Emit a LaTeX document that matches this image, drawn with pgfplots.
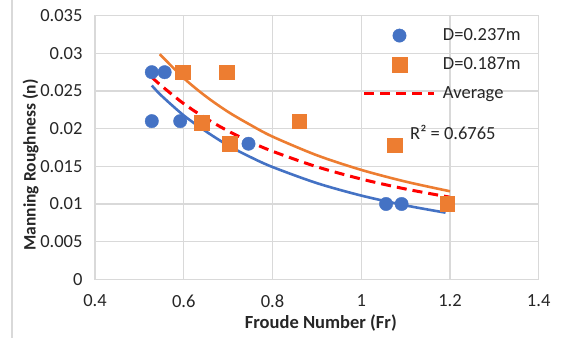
\documentclass[border=0pt]{standalone}
\usepackage{fontspec}
\setmainfont{Carlito}
\usepackage{pgfplots}
\pgfplotsset{compat=1.18}
\definecolor{cblue}{HTML}{4472C4}
\definecolor{corange}{HTML}{ED7D31}
\definecolor{cgrid}{HTML}{D9D9D9}
\definecolor{ctext}{HTML}{262626}
\pgfplotsset{
  legmark/.style={legend image code/.code={\draw[##1] plot coordinates {(35bp,0bp)};}},
  legline/.style={legend image code/.code={\draw[##1] (0bp,0bp) -- (70bp,0bp);}},
}
\begin{document}
\begin{tikzpicture}[font=\fontsize{18.5bp}{22bp}\selectfont]
\path[use as bounding box] (-95bp,-58.7bp) rectangle (466bp,279.3bp);
\draw[cgrid, line width=1.2bp] (-83bp,-58.7bp) -- (-83bp,279.3bp);
\begin{axis}[
  at={(0,0)}, anchor=south west,
  scale only axis, width=443.7bp, height=263.6bp,
  xmin=0.4, xmax=1.4, ymin=0, ymax=0.035,
  xtick={0.4,0.6,0.8,1,1.2,1.4},
  ytick={0,0.005,0.01,0.015,0.02,0.025,0.03,0.035},
  scaled y ticks=false, scaled x ticks=false,
  /pgf/number format/assume math mode=true,
  yticklabel style={/pgf/number format/fixed,/pgf/number format/precision=3, xshift=-9bp, text=ctext},
  xticklabel style={/pgf/number format/fixed,/pgf/number format/precision=1, yshift=-12bp, text=ctext},
  major tick length=0pt,
  grid=major,
  grid style={cgrid, line width=1.2bp},
  axis line style={cgrid, line width=1.2bp},
  xlabel={\bfseries Froude Number (Fr)},
  ylabel={\bfseries Manning Roughness (n)},
  xlabel style={at={(axis description cs:0.509,-0.166)}, anchor=center, font=\fontsize{18.5bp}{22bp}\selectfont, text=ctext},
  ylabel style={at={(axis description cs:-0.145,0.4336)}, anchor=center, font=\fontsize{17.5bp}{21bp}\selectfont, text=ctext},
  legend style={draw=none, fill=none, at={(axis description cs:0.604,0.953)}, anchor=north west,
    inner sep=0pt, outer sep=0pt, row sep=14bp, column sep=7bp,
    nodes={inner sep=0pt, text height=12bp, text depth=3bp, text=ctext}},
  legend cell align=left,
  clip=false,
]
\addplot[only marks, mark=*, mark size=6.7bp, color=cblue, legmark]
  coordinates {(0.528,0.0275)(0.557,0.0275)(0.528,0.021)(0.592,0.021)(0.746,0.018)(1.056,0.01)(1.091,0.01)};
\addlegendentry{D=0.237m}
\addplot[only marks, mark=square*, mark size=7.3bp, color=corange, legmark]
  coordinates {(0.598,0.0275)(0.697,0.0275)(0.640,0.0208)(0.703,0.018)(0.860,0.021)(1.076,0.0178)(1.194,0.01)};
\addlegendentry{D=0.187m}
\addplot[red, line width=3bp, dash pattern=on 10bp off 6bp, smooth, no marks, legline]
  coordinates {(0.528,0.02683)(0.55,0.02568)(0.6,0.02332)(0.65,0.02137)(0.7,0.01969)(0.75,0.01825)(0.8,0.01700)(0.9,0.01494)(1.0,0.013313)(1.1,0.01199)(1.2,0.0109)};
\addlegendentry{Average}
\addplot[cblue, line width=2.6bp, smooth, no marks, forget plot]
  coordinates {(0.528,0.02573)(0.55,0.02437)(0.6,0.02176)(0.65,0.01964)(0.7,0.01777)(0.75,0.01624)(0.8,0.01491)(0.9,0.01277)(1.0,0.01112)(1.1,0.00981)(1.19,0.00885)};
\addplot[corange, line width=2.6bp, smooth, no marks, forget plot]
  coordinates {(0.546,0.02989)(0.6,0.02671)(0.65,0.02428)(0.7,0.02223)(0.75,0.02051)(0.8,0.01895)(0.9,0.01647)(1.0,0.014528)(1.1,0.01297)(1.2,0.01169)};
\node[anchor=west, inner sep=0pt, text=ctext] at (axis cs:1.11,0.01956) {R² = 0.6765};
\end{axis}
\end{tikzpicture}
\end{document}
